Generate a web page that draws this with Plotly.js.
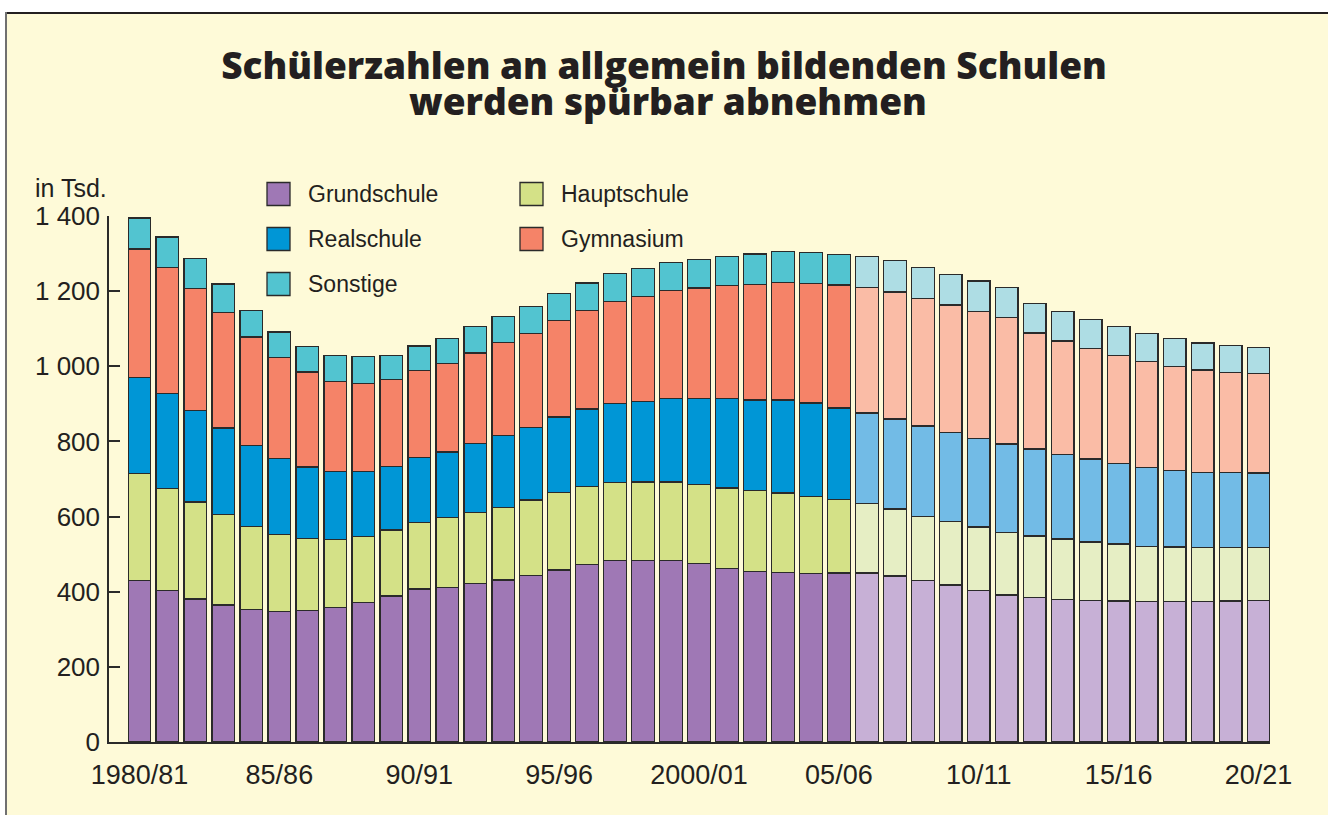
<!DOCTYPE html>
<html>
<head>
<meta charset="utf-8">
<script src="https://cdn.plot.ly/plotly-3.0.1.min.js"></script>
<style>
  html, body { margin:0; padding:0; background:#ffffff; }
  #chart { position:absolute; left:0; top:0; width:1328px; height:815px; }
  .ov { position:absolute; }
</style>
</head>
<body>
<div id="chart"></div>
<div class="ov" style="left:0;top:0;width:1328px;height:12px;background:#ffffff"></div>
<div class="ov" style="left:0;top:0;width:5px;height:815px;background:#ffffff"></div>
<div class="ov" style="left:5px;top:12px;width:1323px;height:2px;background:#231f20"></div>
<div class="ov" style="left:5px;top:12px;width:2px;height:803px;background:#707070"></div>
<script>
// ---- data (in thousands of pupils) ----
const years = ["1980/81","1981/82","1982/83","1983/84","1984/85","1985/86","1986/87","1987/88","1988/89","1989/90",
               "1990/91","1991/92","1992/93","1993/94","1994/95","1995/96","1996/97","1997/98","1998/99","1999/00",
               "2000/01","2001/02","2002/03","2003/04","2004/05","2005/06","2006/07","2007/08","2008/09","2009/10",
               "2010/11","2011/12","2012/13","2013/14","2014/15","2015/16","2016/17","2017/18","2018/19","2019/20",
               "2020/21"];
const grundschule = [430,404,381,365,353,348,350,358,371,389,407,412,422,431,444,458,472,483,484,483,
                     475,461,453,451,449,450,450,442,429,418,404,391,385,380,377,375,374,374,374,375,376];
const hauptschule = [285,271,258,240,220,204,192,181,176,175,178,185,189,194,200,207,208,208,208,209,
                     211,215,216,212,205,195,184,178,172,169,168,167,163,160,155,152,147,145,143,142,141];
const realschule  = [256,253,244,231,216,203,190,181,173,170,173,175,183,190,193,200,206,210,215,222,
                     229,238,241,247,248,244,242,240,240,236,236,235,232,226,221,215,209,204,201,200,199];
const gymnasium   = [341,335,324,308,289,268,253,240,234,230,231,236,241,248,251,256,263,271,279,287,
                     293,301,308,313,319,327,334,338,340,340,338,336,309,301,295,287,282,277,272,266,264];
const sonstige    = [83,81,80,75,71,68,68,68,72,65,65,66,70,70,72,73,73,75,75,75,
                     77,78,81,82,81,82,82,83,82,81,81,80,79,78,76,76,75,74,72,72,70];
const firstProjection = "2006/07";
const tickPositions = ["1980/81","1985/86","1990/91","1995/96","2000/01","2005/06","2010/11","2015/16","2020/21"];
const tickLabels    = ["1980/81","85/86","90/91","95/96","2000/01","05/06","10/11","15/16","20/21"];
const titleLine1 = "Schülerzahlen an allgemein bildenden Schulen";
const titleLine2 = "werden spürbar abnehmen";

// ---- styles ----
const series = [
  {name:"Grundschule", values:grundschule, dark:"#9F78B5", light:"#C7B0D6"},
  {name:"Hauptschule", values:hauptschule, dark:"#D4E187", light:"#E6EEC4"},
  {name:"Realschule",  values:realschule,  dark:"#0096D6", light:"#72BBE6"},
  {name:"Gymnasium",   values:gymnasium,   dark:"#F58368", light:"#FABCA6"},
  {name:"Sonstige",    values:sonstige,    dark:"#52C4D0", light:"#AEDDE4"}
];
const projIdx = years.indexOf(firstProjection);
const FONT = "Liberation Sans, Arial, sans-serif";
const TFONT = "Open Sans, Noto Sans, sans-serif";
const BG = "#FEFAD8";

const traces = series.map(s => ({
  type:"bar",
  name:s.name,
  x:years,
  y:s.values,
  marker:{
    color:years.map((y,i)=> i>=projIdx ? s.light : s.dark),
    line:{color:"#2a2a2a", width:1.3}
  },
  showlegend:false,
  hoverinfo:"x+y+name"
}));

// plot area in page pixels
const L = 109, R = 1270, T = 216, B = 742;
const px = X => (X - L) / (R - L);
const py = Y => (B - Y) / (B - T);

// custom legend (two columns)
const legendPos = {
  "Grundschule":[267,194], "Realschule":[267,239], "Sonstige":[267,284],
  "Hauptschule":[520,194], "Gymnasium":[520,239]
};
const shapes = [];
const annotations = [];
series.forEach(s => {
  const [lx, ly] = legendPos[s.name];
  shapes.push({type:"rect", xref:"paper", yref:"paper",
    x0:px(lx), x1:px(lx+23), y0:py(ly+11.5), y1:py(ly-11.5),
    fillcolor:s.dark, line:{color:"#2a2a2a", width:1.3}});
  annotations.push({xref:"paper", yref:"paper", x:px(lx+39), y:py(ly), xanchor:"left", yanchor:"middle",
    text:s.name, showarrow:false, font:{family:FONT, size:23, color:"#231f20"}});
});
annotations.push({xref:"paper", yref:"paper", x:px(33), y:py(188), xanchor:"left", yanchor:"middle",
  text:"in Tsd.", showarrow:false, font:{family:FONT, size:25, color:"#231f20"}});
annotations.push({xref:"paper", yref:"paper", x:px(668), y:py(101), xanchor:"center", yanchor:"middle",
  text:titleLine2, showarrow:false,
  font:{family:TFONT, size:37, weight:800, color:"#231f20"}});

const layout = {
  width:1328, height:815,
  paper_bgcolor:BG, plot_bgcolor:BG,
  margin:{l:L, r:1328-R, t:T, b:815-B, pad:0},
  separators:", ",
  title:{text:titleLine1, xref:"container", x:0.5, xanchor:"center",
         yref:"container", y:1-66/815, yanchor:"middle",
         font:{family:TFONT, size:37, weight:800, color:"#231f20"}},
  barmode:"stack",
  bargap:0.19,
  xaxis:{type:"category", range:[-1.09, 40.41], tickvals:tickPositions, ticktext:tickLabels,
         ticks:"", showline:true, linecolor:"#2a2a2a", linewidth:1.5, showgrid:false, zeroline:false,
         tickfont:{family:FONT, size:27, color:"#231f20"}, ticklabelstandoff:8, fixedrange:true},
  yaxis:{range:[0,1400], dtick:200, tick0:0, ticks:"inside", ticklen:11, tickwidth:1.5, tickcolor:"#2a2a2a",
         showline:true, linecolor:"#2a2a2a", linewidth:1.5, showgrid:false, zeroline:false,
         separatethousands:true, tickfont:{family:FONT, size:26, color:"#231f20"}, ticklabelstandoff:2,
         fixedrange:true},
  shapes:shapes,
  annotations:annotations,
  showlegend:false
};

Plotly.newPlot("chart", traces, layout, {displayModeBar:false, responsive:false});
</script>
</body>
</html>
